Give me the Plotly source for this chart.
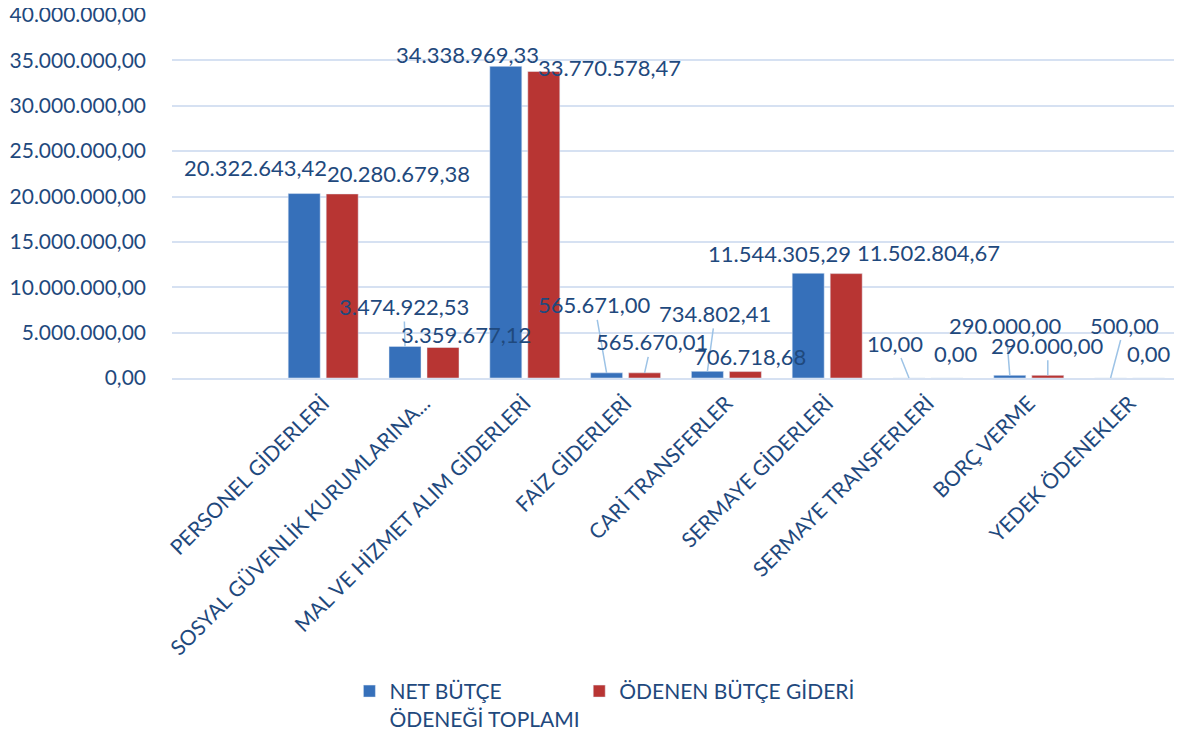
import plotly.graph_objects as go

categories = ["PERSONEL GİDERLERİ", "SOSYAL GÜVENLİK KURUMLARINA...", "MAL VE HİZMET ALIM GİDERLERİ",
              "FAİZ GİDERLERİ", "CARİ TRANSFERLER", "SERMAYE GİDERLERİ",
              "SERMAYE TRANSFERLERİ", "BORÇ VERME", "YEDEK ÖDENEKLER"]
net_butce = [20322643.42, 3474922.53, 34338969.33, 565671.00, 734802.41, 11544305.29, 10.00, 290000.00, 500.00]
odenen = [20280679.38, 3359677.12, 33770578.47, 565670.01, 706718.68, 11502804.67, 0.00, 290000.00, 0.00]
series_names = ["NET BÜTÇE<br>ÖDENEĞİ TOPLAMI", "ÖDENEN BÜTÇE GİDERİ"]

# label placement (pixel offsets of label from bar top) and leader-line flags
blue_off = [(-49, -26), (-1, -40), (-38, -12), (-12, -68), (8, -58), (-29, -20), (-14, -35), (-4, -50), (14, -53)]
blue_lead = [False, True, False, True, True, False, True, True, True]
red_off = [(56, -20), (23, -13), (66, -4), (7, -31), (5, -15), (82, -21), (9, -25), (0, -30), (0, -25)]
red_lead = [False, False, False, True, False, False, False, True, False]

FONT = "Lato"
FS_TICK = 21
FS_LBL = 22
FS_CAT = 21
FS_LEG = 21
TXT = "#1F497D"
BLUE = "#3670BA"
RED = "#B83533"
GRID = "#D6E1F2"
LEAD = "#9DC3E6"
BARGAP = 0.246
BARGROUPGAP = 0.158


def tr(v):
    s = f"{v:,.2f}"
    return s.replace(",", "X").replace(".", ",").replace("X", ".")


xs = list(range(len(categories)))
fig = go.Figure()
fig.add_trace(go.Bar(x=xs, y=net_butce, name=series_names[0], marker_color=BLUE, legend="legend"))
fig.add_trace(go.Bar(x=xs, y=odenen, name=series_names[1], marker_color=RED, legend="legend2"))

off = (1 - BARGAP) / 4
anns = []
for i in xs:
    for vals, offs, leads, sgn in ((net_butce, blue_off, blue_lead, -1), (odenen, red_off, red_lead, 1)):
        ax, ay = offs[i]
        anns.append(dict(x=i + sgn * off, y=vals[i], xref="x", yref="y", text=tr(vals[i]),
                         showarrow=True, ax=ax, ay=ay, arrowhead=0, arrowwidth=1.5, standoff=0,
                         arrowcolor=LEAD if leads[i] else "rgba(0,0,0,0)",
                         font=dict(family=FONT, size=FS_LBL, color=TXT)))

legend_common = dict(orientation="h", y=-0.807, xanchor="left", yanchor="top", valign="top",
                     font=dict(family=FONT, size=FS_LEG, color=TXT), bgcolor="rgba(0,0,0,0)")

# page body has an 8px margin: figure sized/offset so the plot area lands at x 172..1180, y 15..378
fig.update_layout(
    width=1174, height=723,
    margin=dict(l=164, r=2, t=7, b=353, autoexpand=False),
    paper_bgcolor="white", plot_bgcolor="white",
    barmode="group", bargap=BARGAP, bargroupgap=BARGROUPGAP,
    separators=",.",
    font=dict(family=FONT, size=FS_TICK, color=TXT),
    annotations=anns,
    showlegend=True,
    legend=dict(x=0.176, **legend_common),
    legend2=dict(x=0.404, **legend_common),
    xaxis=dict(range=[-1.5, 8.5], tickvals=xs, ticktext=categories, tickangle=-45, automargin=False,
               showgrid=False, zeroline=False, showline=True, linecolor=GRID, linewidth=1.5,
               ticks="", tickfont=dict(family=FONT, size=FS_CAT, color=TXT), ticklabelstandoff=3,
               ticklabeloverflow="allow"),
    yaxis=dict(range=[0, 40000000], dtick=5000000, tickformat=",.2f", automargin=False,
               showgrid=True, gridcolor=GRID, gridwidth=1.5, zeroline=False, showline=False,
               ticks="", tickfont=dict(family=FONT, size=FS_TICK, color=TXT), ticklabelstandoff=25,
               ticklabeloverflow="allow"),
)

fig.write_html("out.html")
